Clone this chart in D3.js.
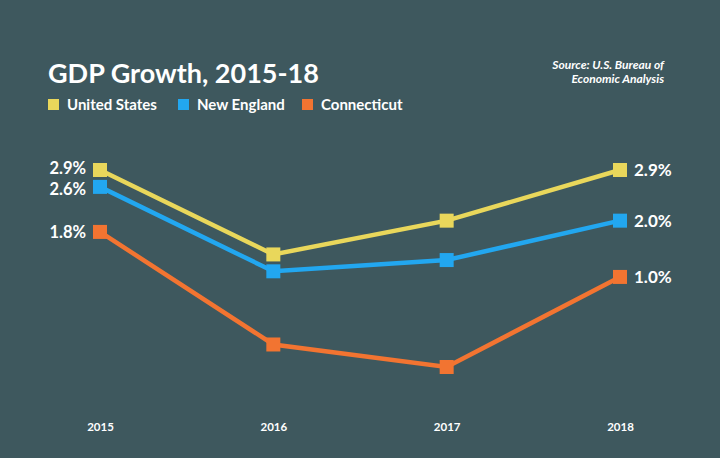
<!DOCTYPE html>
<html><head><meta charset="utf-8">
<script src="https://cdn.jsdelivr.net/npm/d3@7"></script>
<style>
html,body{margin:0;padding:0;background:#3e585e;}
svg{display:block;}
text{font-family:Lato,"Open Sans",sans-serif;fill:#fff;}
</style></head>
<body>
<svg id="c" width="720" height="458"></svg>
<script>
const years = ["2015","2016","2017","2018"];
const seriesNames = ["United States","New England","Connecticut"];
const usValues = [2.9, 1.4, 2.0, 2.9];
const neValues = [2.6, 1.1, 1.3, 2.0];
const ctValues = [1.8, -0.2, -0.6, 1.0];
const colors = ["#e9d75b","#22a7f0","#f27431"];

const series = [usValues, neValues, ctValues].map((v,i)=>({name:seriesNames[i], values:v, color:colors[i]}));

const svg = d3.select("#c");
svg.append("rect").attr("width",720).attr("height",458).attr("fill","#3e585e");

const x = d3.scalePoint().domain(years).range([100,620]);
const y = d3.scaleLinear().domain([-0.6,2.9]).range([367,170]);

// title
svg.append("text").attr("x",48).attr("y",83).attr("font-size",27).attr("font-weight",700).text("GDP Growth, 2015-18");

// source
const src = svg.append("g").attr("font-size",12).attr("font-style","italic").attr("font-weight",700).attr("text-anchor","end");
src.append("text").attr("x",664).attr("y",69).text("Source: U.S. Bureau of");
src.append("text").attr("x",664).attr("y",83).text("Economic Analysis");

// legend
const legX = [48, 178, 302];
series.forEach((s,i)=>{
  const g = svg.append("g").attr("transform",`translate(${legX[i]},99)`);
  g.append("rect").attr("width",11).attr("height",11).attr("fill",s.color);
  g.append("text").attr("x",19).attr("y",11).attr("font-size",15).attr("font-weight",700).text(s.name);
});

// axis labels
const ax = d3.axisBottom(x).tickSize(0).tickPadding(0);
const axg = svg.append("g").attr("transform","translate(0,423)").call(ax);
axg.select(".domain").remove();
axg.selectAll("text").attr("font-size",11.5).attr("font-weight",700).attr("fill","#fff").attr("font-family","Lato,sans-serif");

const line = d3.line().x((d,i)=>x(years[i])).y(d=>y(d));
series.forEach(s=>{
  svg.append("path").attr("d",line(s.values)).attr("fill","none").attr("stroke",s.color).attr("stroke-width",4.5).attr("stroke-linejoin","miter");
});
series.forEach(s=>{
  svg.selectAll(null).data(s.values).enter().append("rect")
    .attr("x",(d,i)=>x(years[i])-7).attr("y",d=>y(d)-7)
    .attr("width",14).attr("height",14).attr("fill",s.color);
});

// value labels
const leftNudge = [-2, 2, 0];
series.forEach((s,i)=>{
  const first = s.values[0], last = s.values[s.values.length-1];
  svg.append("text").attr("x",x(years[0])-14).attr("y",y(first)+6+leftNudge[i]).attr("text-anchor","end")
    .attr("font-size",16.5).attr("font-weight",700).text(first.toFixed(1)+"%");
  svg.append("text").attr("x",x(years[3])+14).attr("y",y(last)+6).attr("text-anchor","start")
    .attr("font-size",17).attr("font-weight",700).text(last.toFixed(1)+"%");
});
</script>
</body></html>
